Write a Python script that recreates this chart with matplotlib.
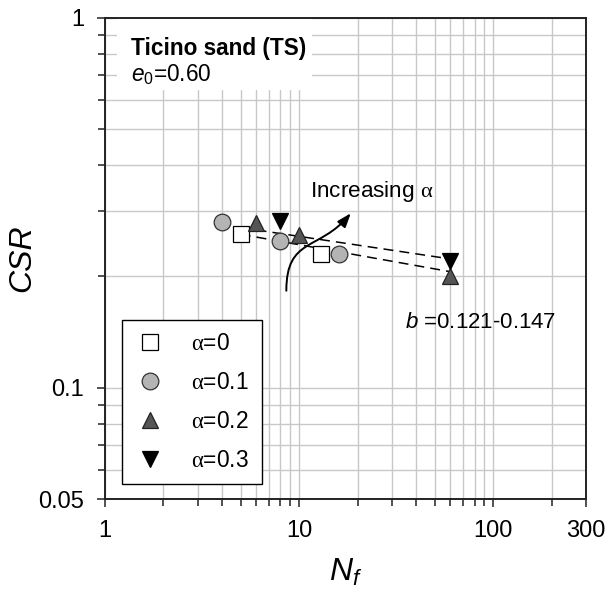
import matplotlib
matplotlib.use('Agg')
import matplotlib.pyplot as plt
from matplotlib.patches import Rectangle, FancyArrowPatch
from matplotlib.path import Path
from matplotlib.ticker import FixedLocator, NullFormatter

plt.rcParams['font.family'] = ['Liberation Sans', 'DejaVu Sans']
plt.rcParams['mathtext.fontset'] = 'custom'
plt.rcParams['mathtext.rm'] = 'Liberation Sans'
plt.rcParams['mathtext.it'] = 'Liberation Sans:italic'
plt.rcParams['mathtext.sf'] = 'Liberation Serif'

# Data
n_a0 = [5, 13]
csr_a0 = [0.26, 0.23]
n_a1 = [4, 8, 16]
csr_a1 = [0.28, 0.25, 0.23]
n_a2 = [6, 10, 60]
csr_a2 = [0.279, 0.259, 0.2]
n_a3 = [8, 60]
csr_a3 = [0.282, 0.22]

# dashed trend lines
fit_n = [5, 60]
fit_upper = [0.271, 0.223]
fit_lower = [0.26, 0.206]

x_major = [1, 10, 100, 300]
x_labels = ['1', '10', '100', '300']
x_minor = [2, 3, 4, 5, 6, 7, 8, 9, 20, 30, 40, 50, 60, 70, 80, 90, 200]
y_major = [0.05, 0.1, 1]
y_labels = ['0.05', '0.1', '1']
y_minor = [0.06, 0.07, 0.08, 0.09, 0.2, 0.3, 0.4, 0.5, 0.6, 0.7, 0.8, 0.9]

fig = plt.figure(figsize=(6.05, 5.91), dpi=100)
ax = fig.add_axes([105/605, 92/591, 481/605, 481/591])
ax.set_xscale('log')
ax.set_yscale('log')
ax.set_xlim(1, 300)
ax.set_ylim(0.05, 1)

ax.xaxis.set_major_locator(FixedLocator(x_major))
ax.xaxis.set_minor_locator(FixedLocator(x_minor))
ax.set_xticklabels(x_labels)
ax.xaxis.set_minor_formatter(NullFormatter())
ax.yaxis.set_major_locator(FixedLocator(y_major))
ax.yaxis.set_minor_locator(FixedLocator(y_minor))
ax.set_yticklabels(y_labels)
ax.yaxis.set_minor_formatter(NullFormatter())

ax.tick_params(which='major', direction='out', length=6, width=1.2, pad=9,
               labelsize=17, color='#333333')
ax.tick_params(which='minor', direction='out', length=5, width=1.2, color='#333333')
ax.grid(which='both', color='#c8c8c8', linewidth=1.0)
ax.set_axisbelow(True)
for s in ax.spines.values():
    s.set_linewidth(1.4)
    s.set_color('#222222')

ax.set_xlabel('$N_f$', fontsize=23, va='center')
ax.xaxis.set_label_coords(0.5, -0.152)
ax.set_ylabel('CSR', fontsize=23, fontstyle='italic', va='center')
ax.yaxis.set_label_coords(-0.173, 0.5)

# trend lines
ax.plot(fit_n, fit_upper, color='black', lw=1.1, ls=(0, (6.5, 4)), zorder=2)
ax.plot(fit_n, fit_lower, color='black', lw=1.1, ls=(0, (6.5, 4)), zorder=2)

ms = 12
ax.plot(n_a0, csr_a0, ls='none', marker='s', ms=ms, mfc='white', mec='black', mew=0.9,
        label=r'$\mathsf{\alpha}$=0', zorder=3)
ax.plot(n_a1, csr_a1, ls='none', marker='o', ms=ms, mfc='#b4b4b4', mec='#333333', mew=0.9,
        label=r'$\mathsf{\alpha}$=0.1', zorder=3)
ax.plot(n_a2, csr_a2, ls='none', marker='^', ms=ms, mfc='#555555', mec='#222222', mew=0.9,
        label=r'$\mathsf{\alpha}$=0.2', zorder=3)
ax.plot(n_a3, csr_a3, ls='none', marker='v', ms=ms, mfc='black', mec='black', mew=0.9,
        label=r'$\mathsf{\alpha}$=0.3', zorder=3)

leg = ax.legend(loc='lower left', bbox_to_anchor=(0.035, 0.031), borderaxespad=0,
                fontsize=16.4, frameon=True, fancybox=False, edgecolor='black',
                framealpha=1, handlelength=1.4, handletextpad=1.1, labelspacing=0.69,
                borderpad=0.55, numpoints=1)
leg.get_frame().set_linewidth(1.0)

# title box
ax.add_patch(Rectangle((0.025, 0.85), 0.405, 0.15, transform=ax.transAxes,
                       facecolor='white', edgecolor='none', zorder=2.5))
ax.text(0.054, 0.923, 'Ticino sand (TS)', transform=ax.transAxes, fontsize=16.3,
        fontweight='bold', va='baseline', zorder=4)
ax.text(0.054, 0.869, r'$\mathit{e}_\mathit{0}$=0.60', transform=ax.transAxes, fontsize=16.3,
        va='baseline', zorder=4)

# curved arrow
verts = [(0.377, 0.433), (0.377, 0.545), (0.445, 0.515), (0.511, 0.594)]
codes = [Path.MOVETO, Path.CURVE4, Path.CURVE4, Path.CURVE4]
arrow = FancyArrowPatch(path=Path(verts, codes), transform=ax.transAxes,
                        arrowstyle='-|>,head_length=0.6,head_width=0.22',
                        mutation_scale=14, color='black', lw=1.4, zorder=4)
ax.add_patch(arrow)
ax.text(0.426, 0.628, r'Increasing $\mathsf{\alpha}$', transform=ax.transAxes,
        fontsize=16.2, va='baseline', zorder=4)

ax.text(0.624, 0.356, r'$\mathit{b}$ =0.121-0.147', transform=ax.transAxes,
        fontsize=16, va='baseline', zorder=4)

fig.savefig('out.png', dpi=100)
